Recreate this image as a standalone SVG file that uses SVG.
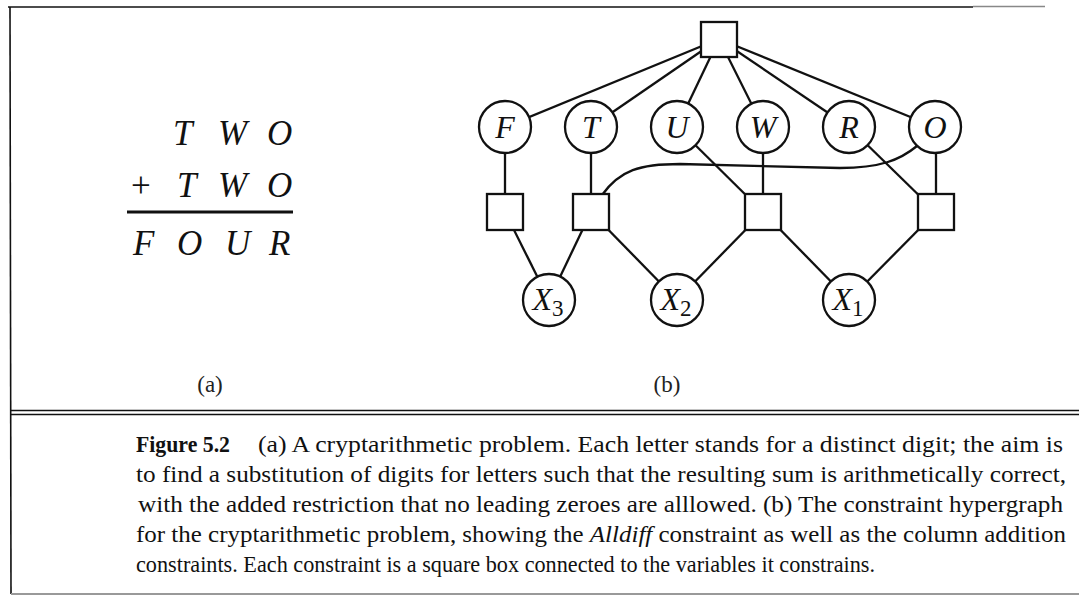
<svg xmlns="http://www.w3.org/2000/svg" width="1079" height="597" viewBox="0 0 1079 597">
<style>
.edge{stroke:#111;stroke-width:2.3;fill:none}
.circ{fill:#fff;stroke:#111;stroke-width:2.3}
.box{fill:#fff;stroke:#111;stroke-width:2.3}
.lbl{font-family:"Liberation Serif",serif;font-style:italic;font-size:32px;fill:#111;text-anchor:middle}
.eq{font-family:"Liberation Serif",serif;font-style:italic;font-size:35px;fill:#111}
.cap{font-family:"Liberation Serif",serif;font-size:23px;fill:#111}
.sub{font-family:"Liberation Serif",serif;font-size:23px;fill:#222;text-anchor:middle}
.frame{stroke:#111;stroke-width:1.6;fill:none}
</style>
<rect width="1079" height="597" fill="#fff"/>
<g id="frame">
<line class="frame" x1="8" y1="7" x2="973" y2="7"/>
<line x1="973" y1="6.5" x2="1045" y2="6.5" stroke="#888" stroke-width="1.5"/>
<line class="frame" x1="10" y1="7" x2="11" y2="594"/>
<line class="frame" x1="11" y1="410.5" x2="1079" y2="410.5" stroke-width="1.3"/>
<line class="frame" x1="11" y1="414.5" x2="1079" y2="414.5" stroke-width="1.3"/>
<line x1="11" y1="594" x2="1079" y2="594" stroke="#999" stroke-width="2"/>
</g>
<g id="equation">
<text class="eq" y="145"><tspan x="173">T</tspan><tspan x="218">W</tspan><tspan x="267">O</tspan></text>
<text class="eq" y="197"><tspan x="131" font-style="normal">+</tspan><tspan x="177">T</tspan><tspan x="218">W</tspan><tspan x="267">O</tspan></text>
<line x1="127" y1="212" x2="293" y2="212" stroke="#111" stroke-width="3"/>
<text class="eq" y="255"><tspan x="133">F</tspan><tspan x="177">O</tspan><tspan x="225">U</tspan><tspan x="269">R</tspan></text>
</g>
<g id="connectors">
<line class="edge" x1="719" y1="39" x2="505" y2="127"/>
<line class="edge" x1="719" y1="39" x2="591" y2="127"/>
<line class="edge" x1="719" y1="39" x2="677" y2="127"/>
<line class="edge" x1="719" y1="39" x2="763" y2="127"/>
<line class="edge" x1="719" y1="39" x2="849" y2="127"/>
<line class="edge" x1="719" y1="39" x2="935" y2="127"/>
<line class="edge" x1="505" y1="127" x2="505" y2="212"/>
<line class="edge" x1="591" y1="127" x2="591" y2="212"/>
<line class="edge" x1="763" y1="127" x2="763" y2="212"/>
<line class="edge" x1="936" y1="127" x2="936" y2="212"/>
<line class="edge" x1="677" y1="127" x2="763" y2="212"/>
<line class="edge" x1="849" y1="127" x2="936" y2="212"/>
<path class="edge" d="M602 195 C620 170 640 164 680 164 L 840 168 C 880 168 900 160 917 146"/>
<line class="edge" x1="505" y1="212" x2="549" y2="300"/>
<line class="edge" x1="591" y1="212" x2="549" y2="300"/>
<line class="edge" x1="591" y1="212" x2="677" y2="300"/>
<line class="edge" x1="763" y1="212" x2="677" y2="300"/>
<line class="edge" x1="763" y1="212" x2="849" y2="300"/>
<line class="edge" x1="936" y1="212" x2="849" y2="300"/>
</g>
<g id="alldiff"><rect class="box" x="701" y="22" width="36" height="35"/></g>
<g id="c1"><rect class="box" x="487" y="194" width="36" height="36"/></g>
<g id="c2"><rect class="box" x="573" y="194" width="36" height="36"/></g>
<g id="c3"><rect class="box" x="745" y="194" width="36" height="36"/></g>
<g id="c4"><rect class="box" x="918" y="194" width="36" height="36"/></g>
<g id="F"><circle class="circ" cx="505" cy="127" r="26"/><text class="lbl" x="505" y="138">F</text></g>
<g id="T"><circle class="circ" cx="591" cy="127" r="26"/><text class="lbl" x="591" y="138">T</text></g>
<g id="U"><circle class="circ" cx="677" cy="127" r="26"/><text class="lbl" x="677" y="138">U</text></g>
<g id="W"><circle class="circ" cx="763" cy="127" r="26"/><text class="lbl" x="763" y="138">W</text></g>
<g id="R"><circle class="circ" cx="849" cy="127" r="26"/><text class="lbl" x="849" y="138">R</text></g>
<g id="O"><circle class="circ" cx="935" cy="127" r="26"/><text class="lbl" x="935" y="138">O</text></g>
<g id="X3"><circle class="circ" cx="549" cy="300" r="26"/><text class="lbl" x="548" y="310">X<tspan font-style="normal" font-size="23" dy="6">3</tspan></text></g>
<g id="X2"><circle class="circ" cx="677" cy="300" r="26"/><text class="lbl" x="676" y="310">X<tspan font-style="normal" font-size="23" dy="6">2</tspan></text></g>
<g id="X1"><circle class="circ" cx="849" cy="300" r="26"/><text class="lbl" x="848" y="310">X<tspan font-style="normal" font-size="23" dy="6">1</tspan></text></g>
<g id="sublabels">
<text class="sub" x="210" y="392">(a)</text>
<text class="sub" x="667" y="392">(b)</text>
</g>
<g id="caption">
<text class="cap" x="136" y="452" font-weight="bold" textLength="94" lengthAdjust="spacingAndGlyphs">Figure 5.2</text>
<text class="cap" x="258" y="452" textLength="805" lengthAdjust="spacingAndGlyphs">(a) A cryptarithmetic problem. Each letter stands for a distinct digit; the aim is</text>
<text class="cap" x="136" y="482" textLength="930" lengthAdjust="spacingAndGlyphs">to find a substitution of digits for letters such that the resulting sum is arithmetically correct,</text>
<text class="cap" x="138" y="512" textLength="925" lengthAdjust="spacingAndGlyphs">with the added restriction that no leading zeroes are alllowed. (b) The constraint hypergraph</text>
<text class="cap" x="136" y="542" textLength="930" lengthAdjust="spacingAndGlyphs">for the cryptarithmetic problem, showing the <tspan font-style="italic">Alldiff</tspan> constraint as well as the column addition</text>
<text class="cap" x="136" y="572" textLength="739" lengthAdjust="spacingAndGlyphs">constraints. Each constraint is a square box connected to the variables it constrains.</text>
</g>
</svg>
